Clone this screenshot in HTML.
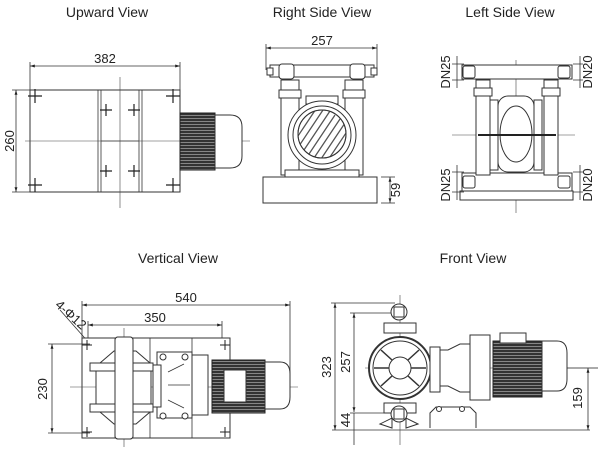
<!DOCTYPE html>
<html><head><meta charset="utf-8"><style>
html,body{margin:0;padding:0;background:#fff;}
svg{display:block;font-family:"Liberation Sans",sans-serif;}
.t{font-size:14px;fill:#222;text-anchor:middle}
.d{font-size:13px;fill:#222;text-anchor:middle}
.l{stroke:#333;stroke-width:0.8;fill:none}
.b{stroke:#333;stroke-width:1;fill:#fff}
.c{stroke:#444;stroke-width:0.6;fill:none}
</style></head><body>
<svg width="600" height="452" viewBox="0 0 600 452" xmlns="http://www.w3.org/2000/svg">
<defs>
<pattern id="fin" width="4" height="3" patternUnits="userSpaceOnUse"><rect width="4" height="3" fill="#333"/><line x1="0" y1="1.5" x2="4" y2="1.5" stroke="#aaa" stroke-width="0.7"/></pattern>
<marker id="a" viewBox="0 0 10 10" refX="10" refY="5" markerWidth="6" markerHeight="6" orient="auto-start-reverse"><path d="M0,2 L10,5 L0,8z" fill="#222"/></marker>
<clipPath id="fan"><circle cx="322" cy="134" r="24"/></clipPath>
</defs>
<text class="t" x="107" y="17">Upward View</text>
<text class="t" x="322" y="17">Right Side View</text>
<text class="t" x="510" y="17">Left Side View</text>
<text class="t" x="178" y="263">Vertical View</text>
<text class="t" x="473" y="263">Front View</text>

<!-- Upward view -->
<line class="l" x1="30" y1="66" x2="180" y2="66" marker-start="url(#a)" marker-end="url(#a)"/>
<line class="l" x1="30" y1="62" x2="30" y2="192"/><line class="l" x1="180" y1="62" x2="180" y2="90"/>
<text class="d" x="105" y="63">382</text>
<rect class="b" x="30" y="90" width="150" height="102"/>
<line class="l" x1="98" y1="90" x2="98" y2="192"/><line class="l" x1="101" y1="90" x2="101" y2="192"/>
<line class="l" x1="139" y1="90" x2="139" y2="192"/><line class="l" x1="142" y1="90" x2="142" y2="192"/>
<line class="l" x1="101" y1="141" x2="139" y2="141" stroke-width="1.5"/>
<line class="c" x1="25" y1="141" x2="250" y2="141"/>
<line class="c" x1="120" y1="77" x2="120" y2="208"/>
<line class="l" x1="16" y1="90" x2="16" y2="192" marker-start="url(#a)" marker-end="url(#a)"/>
<line class="l" x1="12" y1="90" x2="30" y2="90"/><line class="l" x1="12" y1="192" x2="30" y2="192"/>
<text class="d" transform="translate(14,141) rotate(-90)">260</text>
<g stroke="#222" stroke-width="1.2">
<path d="M28,96h14M35,89v14M166,96h14M173,89v14M28,185h14M35,178v14M166,185h14M173,178v14"/>
<path d="M100,110h12M106,104v12M128,110h12M134,104v12M100,171h12M106,165v12M128,171h12M134,165v12"/>
</g>
<rect x="180" y="113" width="35" height="57" fill="url(#fin)" stroke="#222"/>
<path class="b" d="M215,115h15q12,0 12,12v29q0,12 -12,12h-15z"/>

<!-- Right side view -->
<line class="l" x1="266" y1="48" x2="377" y2="48" marker-start="url(#a)" marker-end="url(#a)"/>
<line class="l" x1="266" y1="44" x2="266" y2="70"/><line class="l" x1="377" y1="44" x2="377" y2="70"/>
<text class="d" x="322" y="45">257</text>
<rect class="b" x="270" y="65" width="104" height="12"/>
<rect class="b" x="267" y="68" width="6" height="7"/><rect class="b" x="371" y="68" width="6" height="7"/>
<rect class="b" x="279" y="64" width="15" height="15" rx="3"/><rect class="b" x="350" y="64" width="15" height="15" rx="3"/>
<rect class="b" x="281" y="80" width="18" height="95"/><rect class="b" x="345" y="80" width="18" height="95"/>
<rect class="b" x="279" y="90" width="22" height="8"/><rect class="b" x="343" y="90" width="22" height="8"/>
<rect class="b" x="306" y="96" width="32" height="8"/>
<circle class="b" cx="322" cy="135" r="34"/>
<circle class="b" cx="322" cy="135" r="29"/>
<circle cx="322" cy="134" r="24" fill="#fff" stroke="#333"/>
<g stroke="#555" stroke-width="1.3" clip-path="url(#fan)">
<path d="M290,148l30,-45M295,152l30,-45M300,156l30,-45M305,160l30,-45M310,164l30,-45M315,168l30,-45M320,172l30,-45M285,144l30,-45"/>
</g>
<circle cx="322" cy="134" r="24" fill="none" stroke="#333"/>
<rect class="b" x="263" y="177" width="114" height="26"/>
<rect class="b" x="285" y="170" width="74" height="7"/>
<line class="l" x1="381" y1="177" x2="395" y2="177"/><line class="l" x1="381" y1="203" x2="395" y2="203"/>
<line class="l" x1="390" y1="177" x2="390" y2="203" marker-start="url(#a)" marker-end="url(#a)"/>
<text class="d" transform="translate(400,190) rotate(-90)">59</text>

<!-- Left side view -->
<line class="c" x1="516" y1="60" x2="516" y2="213"/>
<line class="c" x1="452" y1="135" x2="575" y2="135"/>
<rect class="b" x="462" y="65" width="110" height="14"/>
<rect class="b" x="462" y="173" width="110" height="18"/>
<rect class="b" x="463" y="66" width="12" height="12" rx="2"/><rect class="b" x="558" y="66" width="12" height="12" rx="2"/>
<rect class="b" x="463" y="176" width="12" height="12" rx="2"/><rect class="b" x="558" y="176" width="12" height="12" rx="2"/>
<rect class="b" x="476" y="80" width="14" height="95"/><rect class="b" x="544" y="80" width="14" height="95"/>
<rect class="b" x="474" y="88" width="18" height="8"/><rect class="b" x="542" y="88" width="18" height="8"/>
<rect class="b" x="490" y="100" width="8" height="70"/><rect class="b" x="534" y="100" width="8" height="70"/>
<rect class="b" x="498" y="96" width="36" height="76" rx="10"/>
<ellipse class="b" cx="516" cy="134" rx="16" ry="28"/>
<line x1="478" y1="135" x2="556" y2="135" stroke="#222" stroke-width="2"/>
<rect class="b" x="460" y="191" width="113" height="9"/>
<path class="l" d="M452,64h12M452,80h12M573,64h10M573,80h10M452,172h12M452,192h12M573,172h10M573,192h10"/>
<line class="l" x1="457" y1="56" x2="457" y2="88"/><line class="l" x1="580" y1="56" x2="580" y2="88"/>
<line class="l" x1="457" y1="165" x2="457" y2="200"/><line class="l" x1="580" y1="165" x2="580" y2="200"/>
<text class="d" transform="translate(450,72) rotate(-90)">DN25</text>
<text class="d" transform="translate(592,72) rotate(-90)">DN20</text>
<text class="d" transform="translate(450,185) rotate(-90)">DN25</text>
<text class="d" transform="translate(592,185) rotate(-90)">DN20</text>

<!-- Vertical view -->
<line class="l" x1="82" y1="305" x2="290" y2="305" marker-start="url(#a)" marker-end="url(#a)"/>
<line class="l" x1="82" y1="301" x2="82" y2="338"/><line class="l" x1="290" y1="301" x2="290" y2="395"/>
<text class="d" x="186" y="302">540</text>
<line class="l" x1="88" y1="325" x2="222" y2="325" marker-start="url(#a)" marker-end="url(#a)"/>
<line class="l" x1="88" y1="321" x2="88" y2="345"/><line class="l" x1="222" y1="321" x2="222" y2="345"/>
<text class="d" x="155" y="322">350</text>
<line class="l" x1="60" y1="310" x2="98" y2="353"/>
<text class="d" transform="translate(68,318) rotate(42)" font-size="12">4-Φ12</text>
<rect class="b" x="82" y="338" width="148" height="100"/>
<line class="l" x1="150" y1="338" x2="150" y2="438"/><line class="l" x1="192" y1="338" x2="192" y2="438"/>
<line class="l" x1="52" y1="344" x2="52" y2="433" marker-start="url(#a)" marker-end="url(#a)"/>
<line class="l" x1="48" y1="344" x2="90" y2="344"/><line class="l" x1="48" y1="433" x2="90" y2="433"/>
<text class="d" transform="translate(52,389) rotate(-90)" dy="-5">230</text>
<line class="c" x1="70" y1="387" x2="298" y2="387"/>
<line class="c" x1="124" y1="328" x2="124" y2="447"/>
<rect class="b" x="115" y="337" width="18" height="102" rx="3"/>
<rect class="b" x="90" y="363" width="63" height="8"/><rect class="b" x="90" y="404" width="63" height="8"/>
<path class="b" d="M100,363l14,-12h22l14,12zM100,412l14,12h22l14,-12z"/>
<rect class="b" x="96" y="371" width="55" height="33"/>
<rect class="b" x="115" y="337" width="18" height="102" rx="3"/>
<rect class="b" x="157" y="352" width="35" height="66"/>
<rect class="b" x="153" y="365" width="8" height="42"/>
<path class="l" d="M168,372l16,-8M168,400l16,8M168,385h22"/>
<rect class="b" x="192" y="355" width="16" height="60"/>
<rect x="212" y="360" width="53" height="53" fill="url(#fin)" stroke="#222"/>
<rect class="b" x="224" y="370" width="22" height="32"/>
<path class="b" d="M265,362h15q10,0 10,12v23q0,12 -10,12h-15z"/>
<g stroke="#222" stroke-width="1"><path d="M82,345h10M87,340v10M220,345h10M225,340v10M82,432h10M87,427v10M220,432h10M225,427v10"/></g>
<circle class="b" cx="163" cy="357" r="3"/><circle class="b" cx="185" cy="357" r="3"/><circle class="b" cx="163" cy="416" r="3"/><circle class="b" cx="185" cy="416" r="3"/>

<!-- Front view -->
<line class="l" x1="335" y1="303" x2="335" y2="430" marker-start="url(#a)" marker-end="url(#a)"/>
<line class="l" x1="331" y1="303" x2="395" y2="303"/>
<text class="d" transform="translate(335,367) rotate(-90)" dy="-4">323</text>
<line class="l" x1="354" y1="313" x2="354" y2="412" marker-start="url(#a)" marker-end="url(#a)"/>
<line class="l" x1="350" y1="313" x2="392" y2="313"/><line class="l" x1="350" y1="413" x2="392" y2="413"/>
<text class="d" transform="translate(354,362) rotate(-90)" dy="-4">257</text>
<line class="l" x1="354" y1="413" x2="354" y2="445"/>
<text class="d" transform="translate(354,420) rotate(-90)" dy="-4">44</text>
<line class="l" x1="332" y1="430" x2="590" y2="430"/>
<line class="l" x1="588" y1="368" x2="588" y2="430" marker-start="url(#a)" marker-end="url(#a)"/>
<line class="l" x1="560" y1="368" x2="598" y2="368"/>
<text class="d" transform="translate(588,398) rotate(-90)" dy="-6">159</text>
<line class="c" x1="365" y1="368" x2="598" y2="368"/>
<line class="c" x1="400" y1="295" x2="400" y2="445"/>
<rect class="b" x="384" y="323" width="32" height="10"/><rect class="b" x="384" y="403" width="32" height="10"/>
<circle cx="400" cy="368" r="31" fill="#fff" stroke="#333" stroke-width="2"/>
<circle class="b" cx="400" cy="368" r="27"/>
<circle class="b" cx="400" cy="368" r="11"/>
<path stroke="#333" stroke-width="1.5" d="M374,368h15M411,368h15M381,350l11,10M419,350l-11,10M381,386l11,-10M419,386l-11,-10"/>
<circle class="b" cx="399" cy="312" r="8"/><rect class="b" x="394" y="307" width="10" height="10"/>
<path class="b" d="M380,424l12,-6v10zM418,424l-12,-6v10z"/>
<circle class="b" cx="399" cy="414" r="8"/><rect class="b" x="394" y="409" width="10" height="10"/>
<rect class="b" x="430" y="347" width="10" height="45"/>
<path class="b" d="M440,350h8l12,-6h10v48h-10l-12,-6h-8z"/>
<rect class="b" x="470" y="335" width="20" height="65"/>
<rect x="493" y="341" width="49" height="56" fill="url(#fin)" stroke="#222"/>
<rect class="b" x="500" y="333" width="26" height="10"/>
<path class="b" d="M542,341h15q10,0 10,12v26q0,12 -10,12h-15z"/>
<path class="b" d="M430,428v-15l6,-6h34l6,6v15"/>
<circle class="b" cx="439" cy="409" r="2.5"/><circle class="b" cx="462" cy="409" r="2.5"/>
</svg>
</body></html>
